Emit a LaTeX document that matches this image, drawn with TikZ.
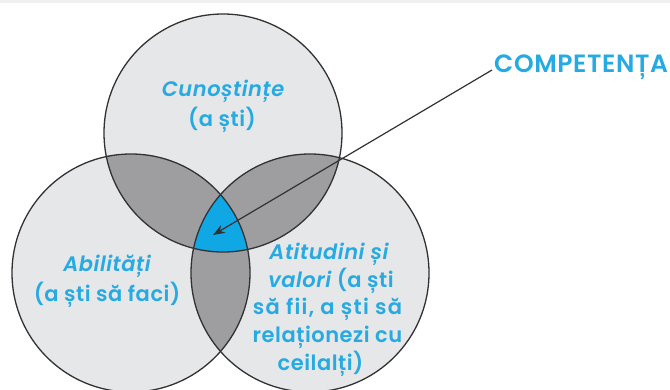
\documentclass[tikz,border=0pt]{standalone}
\usepackage{fontspec}
\setmainfont{Poppins SemiBold}[ItalicFont={Poppins SemiBold Italic}, LetterSpace=2.5]
\usetikzlibrary{arrows.meta}
\definecolor{lightg}{RGB}{230,231,232}
\definecolor{darkg}{RGB}{158,158,160}
\definecolor{bluef}{RGB}{16,168,228}
\definecolor{txtc}{RGB}{38,170,225}
\definecolor{edge}{RGB}{50,50,52}
\tikzset{
  lbl/.style={text=txtc, font=\fontsize{21}{25}\selectfont, inner sep=0pt, anchor=base},
  ring/.style={draw=edge, line width=1.3pt},
  pointer/.style={draw=edge, line width=1.2pt, -{Stealth[length=12pt,width=9pt]}}
}
\begin{document}
\begin{tikzpicture}[x=1pt,y=-1pt]
\useasboundingbox (0,0) rectangle (670,389);
\fill[white] (0,0) rectangle (670,389);
\fill[gray!12] (0,0) rectangle (670,2.5);
\coordinate (T) at (223,133);
\coordinate (L) at (131,273);
\coordinate (R) at (310,273);
\def\rad{119pt}
\fill[lightg] (T) circle[radius=\rad];
\fill[lightg] (L) circle[radius=\rad];
\fill[lightg] (R) circle[radius=\rad];
\begin{scope}
  \clip (T) circle[radius=\rad];
  \fill[darkg] (L) circle[radius=\rad];
  \fill[darkg] (R) circle[radius=\rad];
\end{scope}
\begin{scope}
  \clip (L) circle[radius=\rad];
  \fill[darkg] (R) circle[radius=\rad];
\end{scope}
\begin{scope}
  \clip (T) circle[radius=\rad];
  \clip (L) circle[radius=\rad];
  \fill[bluef] (R) circle[radius=\rad];
\end{scope}
\draw[ring] (T) circle[radius=\rad];
\draw[ring] (L) circle[radius=\rad];
\draw[ring] (R) circle[radius=\rad];
% texts
\node[lbl] (t1) at (223,96) {\itshape Cunoștințe};
\node[lbl] (t2) at (222,126) {(a ști)};
\node[lbl] (l1) at (107,271) {\itshape Abilități};
\node[lbl] (l2) at (107,301) {(a ști să faci)};
\node[lbl] (r1) at (329,259) {\itshape Atitudini și};
\node[lbl] (r2) at (331,287) {\itshape valori\upshape{} (a ști};
\node[lbl] (r3) at (327.5,314) {\addfontfeatures{LetterSpace=6}să fii, a ști să};
\node[lbl] (r4) at (327.5,342) {relaționezi cu};
\node[lbl] (r5) at (320.5,370) {ceilalți)};
\node[lbl, anchor=base west, font=\fontsize{25}{29}\selectfont] (comp) at (494,72) {COMPETENȚA};
\coordinate (start) at (492,70);
\coordinate (tip) at (213,235);
\draw[pointer] (start) -- (tip);
\end{tikzpicture}
\end{document}
